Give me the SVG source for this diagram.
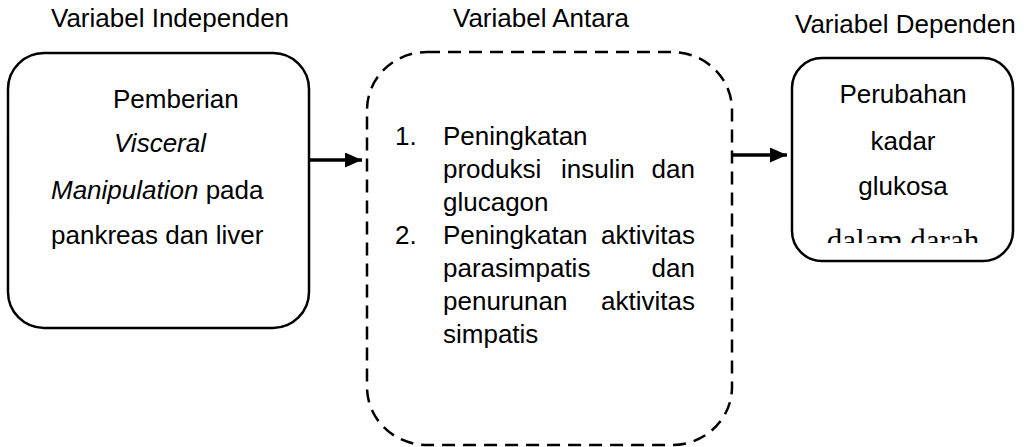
<svg xmlns="http://www.w3.org/2000/svg" width="1030" height="447" viewBox="0 0 1030 447">
<defs>
<style>
.t{font-family:"Liberation Sans",Arial,sans-serif;font-size:26px;fill:#000}
.i{font-style:italic}
.box{fill:#fff;stroke:#000;stroke-width:2.5}
.dash{fill:#fff;stroke:#000;stroke-width:2.5;stroke-dasharray:13 8}
.conn{stroke:#000;stroke-width:3.5;fill:none}
.serif{font-family:"Liberation Serif","Times New Roman",serif;font-size:31px;fill:#000}
</style>
<marker id="ah" markerUnits="userSpaceOnUse" markerWidth="18" markerHeight="16" refX="17" refY="7.5" orient="auto">
<path d="M0,0 L17,7.5 L0,15 Z" fill="#000"/>
</marker>
<clipPath id="rc"><rect x="792" y="58" width="221" height="185"/></clipPath>
</defs>
<rect width="1030" height="447" fill="#fff"/>
<g id="titles">
<text class="t" x="51" y="27">Variabel Independen</text>
<text class="t" x="453" y="27">Variabel Antara</text>
<text class="t" x="795" y="33">Variabel Dependen</text>
</g>
<g id="connectors">
<line class="conn" x1="309" y1="160" x2="362" y2="160" marker-end="url(#ah)"/>
<line class="conn" x1="733" y1="155" x2="787" y2="155" marker-end="url(#ah)"/>
</g>
<g id="node-independen">
<rect class="box" x="8" y="53" width="301" height="275" rx="36" ry="36"/>
<text class="t" x="113" y="108">Pemberian</text>
<text class="t i" x="114" y="152">Visceral</text>
<text class="t" x="51" y="199"><tspan class="i">Manipulation</tspan> pada</text>
<text class="t" x="51" y="244">pankreas dan liver</text>
</g>
<g id="node-antara">
<rect class="dash" x="367" y="52" width="365" height="393" rx="60" ry="58"/>
<text class="t" x="395" y="145">1.</text>
<text class="t" x="443" y="145">Peningkatan</text>
<text class="t" x="443" y="178">produksi</text>
<text class="t" x="561" y="178">insulin</text>
<text class="t" x="695" y="178" text-anchor="end">dan</text>
<text class="t" x="443" y="211">glucagon</text>
<text class="t" x="395" y="244">2.</text>
<text class="t" x="443" y="244">Peningkatan</text>
<text class="t" x="695" y="244" text-anchor="end">aktivitas</text>
<text class="t" x="443" y="277">parasimpatis</text>
<text class="t" x="695" y="277" text-anchor="end">dan</text>
<text class="t" x="443" y="310">penurunan</text>
<text class="t" x="695" y="310" text-anchor="end">aktivitas</text>
<text class="t" x="443" y="343">simpatis</text>
</g>
<g id="node-dependen">
<rect class="box" x="792" y="58" width="221" height="203" rx="30" ry="30"/>
<text class="t" x="903" y="103" text-anchor="middle">Perubahan</text>
<text class="t" x="903" y="150" text-anchor="middle">kadar</text>
<text class="t" x="903" y="195" text-anchor="middle">glukosa</text>
<text class="serif" x="903" y="251" text-anchor="middle" clip-path="url(#rc)">dalam darah</text>
</g>
</svg>
